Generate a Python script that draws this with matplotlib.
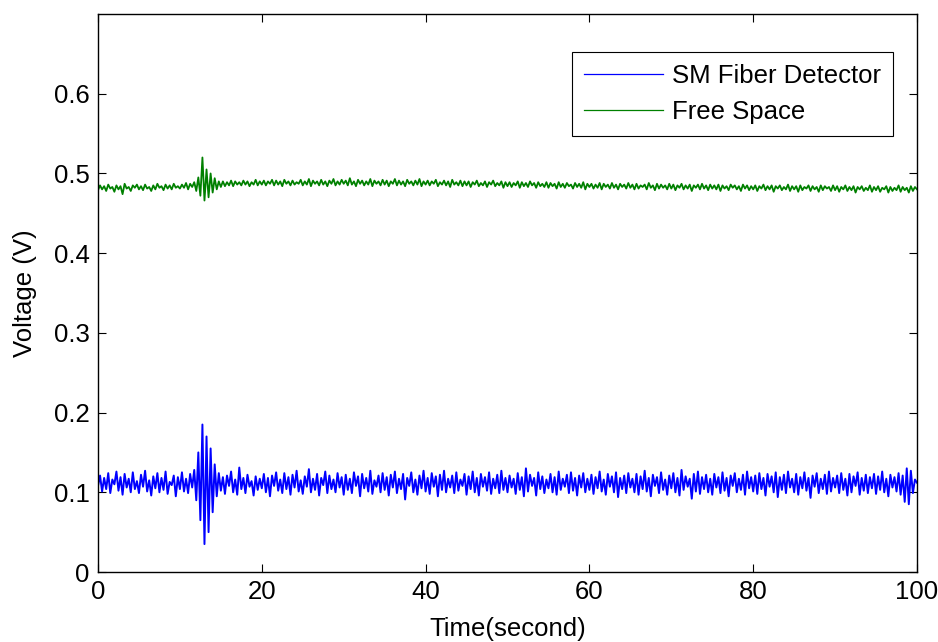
import numpy as np
import matplotlib.pyplot as plt

sm_fiber_mv = [
    108, 121, 101, 118, 104, 124, 99, 116, 110, 126, 102, 119, 97, 123, 106, 117, 100, 125, 104, 114,
    99, 122, 107, 127, 101, 115, 96, 120, 105, 124, 100, 118, 103, 126, 98, 113, 109, 121, 95, 119,
    104, 125, 101, 117, 99, 123, 106, 128, 90, 150, 65, 185, 35, 170, 50, 155, 75, 135, 95, 124,
    102, 119, 98, 121, 108, 126, 100, 116, 97, 131, 104, 118, 99, 122, 107, 114, 96, 120, 103, 117,
    105, 123, 100, 118, 95, 121, 108, 125, 102, 116, 99, 124, 104, 119, 97, 122, 106, 127, 101, 115,
    98, 120, 107, 129, 100, 117, 103, 123, 96, 118, 109, 126, 99, 121, 104, 116, 100, 124, 106, 119,
    97, 122, 103, 117, 99, 125, 108, 120, 95, 123, 105, 118, 101, 127, 98, 115, 107, 121, 100, 124,
    103, 119, 96, 122, 106, 126, 99, 117, 104, 123, 91, 118, 108, 125, 100, 116, 97, 121, 105, 127,
    101, 118, 98, 124, 107, 120, 95, 122, 103, 127, 100, 117, 106, 121, 99, 125, 102, 116, 108, 123,
    97, 120, 104, 126, 100, 118, 96, 123, 107, 119, 102, 125, 98, 117, 105, 122, 99, 127, 103, 118,
    100, 121, 106, 117, 98, 124, 103, 119, 95, 130, 101, 122, 108, 118, 96, 125, 104, 120, 99, 116,
    105, 123, 100, 119, 97, 126, 103, 117, 107, 122, 99, 125, 102, 118, 96, 121, 106, 124, 100, 117,
    103, 122, 98, 119, 105, 126, 101, 116, 97, 123, 107, 120, 100, 125, 94, 118, 104, 121, 99, 124,
    106, 117, 100, 123, 97, 120, 104, 127, 101, 118, 95, 122, 108, 119, 99, 125, 103, 116, 97, 121,
    105, 124, 100, 118, 96, 128, 103, 120, 107, 117, 92, 123, 101, 126, 98, 119, 104, 122, 100, 117,
    97, 123, 106, 119, 99, 125, 102, 118, 95, 121, 108, 124, 100, 117, 103, 122, 97, 126, 105, 119,
    101, 121, 98, 124, 104, 118, 96, 123, 107, 120, 100, 125, 94, 119, 103, 122, 99, 126, 106, 117,
    100, 123, 97, 119, 105, 125, 102, 118, 93, 121, 107, 124, 99, 117, 104, 122, 98, 126, 101, 118,
    106, 121, 99, 124, 103, 117, 96, 123, 100, 120, 108, 125, 97, 118, 102, 122, 99, 119, 105, 123,
    98, 120, 103, 126, 100, 117, 95, 122, 106, 119, 101, 124, 97, 121, 88, 130, 85, 127, 99, 116,
    112,
]

free_space_mv = [
    479, 485, 480, 484, 478, 486, 481, 483, 477, 485, 480, 484, 474, 487, 481, 483, 478, 485, 482, 486,
    480, 484, 479, 486, 481, 483, 478, 485, 480, 487, 482, 484, 479, 486, 481, 485, 480, 487, 482, 484,
    481, 486, 482, 488, 480, 487, 483, 489, 478, 495, 472, 520, 466, 505, 470, 500, 476, 494, 480, 490,
    483, 490, 484, 489, 485, 491, 484, 490, 486, 489, 485, 491, 486, 490, 484, 489, 486, 492, 485, 490,
    486, 491, 485, 490, 487, 492, 485, 491, 486, 490, 484, 492, 487, 490, 485, 491, 486, 489, 487, 492,
    485, 490, 486, 493, 484, 491, 487, 490, 485, 492, 486, 490, 484, 491, 487, 493, 485, 490, 486, 492,
    487, 491, 485, 494, 486, 490, 484, 492, 487, 491, 485, 490, 486, 493, 484, 491, 487, 490, 485, 492,
    486, 491, 484, 490, 487, 493, 485, 491, 486, 490, 484, 492, 487, 490, 485, 491, 486, 493, 484, 490,
    486, 491, 485, 490, 487, 492, 484, 489, 486, 491, 485, 490, 483, 492, 486, 489, 485, 491, 484, 490,
    485, 490, 483, 489, 486, 491, 484, 488, 485, 490, 483, 489, 486, 491, 484, 488, 485, 490, 482, 489,
    484, 489, 483, 488, 485, 490, 482, 489, 484, 488, 483, 490, 485, 488, 482, 489, 484, 487, 483, 489,
    482, 488, 484, 487, 481, 489, 483, 487, 482, 488, 484, 486, 481, 488, 483, 487, 482, 489, 480, 487,
    483, 487, 481, 486, 482, 488, 480, 487, 483, 486, 481, 488, 482, 486, 480, 487, 483, 486, 481, 488,
    482, 486, 480, 487, 481, 485, 483, 486, 480, 488, 482, 485, 479, 487, 481, 486, 482, 485, 480, 487,
    481, 486, 479, 485, 482, 487, 480, 485, 481, 486, 478, 485, 482, 486, 480, 487, 481, 485, 479, 486,
    481, 485, 480, 486, 478, 485, 481, 484, 479, 486, 482, 485, 480, 484, 478, 486, 481, 485, 479, 484,
    480, 485, 478, 484, 481, 486, 479, 484, 480, 485, 477, 484, 481, 485, 479, 483, 480, 486, 478, 484,
    480, 484, 477, 485, 479, 483, 481, 485, 478, 484, 480, 483, 477, 485, 479, 484, 481, 483, 478, 485,
    479, 484, 477, 483, 480, 485, 478, 483, 479, 484, 476, 483, 480, 484, 478, 482, 479, 485, 477, 483,
    479, 484, 477, 482, 480, 484, 476, 483, 478, 482, 479, 485, 477, 483, 479, 482, 476, 484, 478, 483,
    480,
]

legendas = ["SM Fiber Detector", "Free Space"]
x_ticks = [0, 20, 40, 60, 80, 100]
y_ticks = [0, 0.1, 0.2, 0.3, 0.4, 0.5, 0.6]

plt.rcParams["font.family"] = ["Liberation Sans", "DejaVu Sans"]
plt.rcParams["font.size"] = 18.5

tempo = np.linspace(0, 100, len(sm_fiber_mv))
sm_fiber = np.array(sm_fiber_mv) / 1000.0
free_space = np.array(free_space_mv) / 1000.0

fig = plt.figure(figsize=(9.38, 6.42), dpi=100)
ax = fig.add_axes([98 / 938, 70 / 642, 819 / 938, 558 / 642])

ax.plot(tempo, sm_fiber, color=(0, 0, 1), lw=1.4, label=legendas[0])
ax.plot(tempo, free_space, color=(0, 0.5, 0), lw=1.3, label=legendas[1])

ax.set_xlim(0, 100)
ax.set_ylim(0, 0.7)
ax.set_xticks(x_ticks)
ax.set_yticks(y_ticks)
ax.set_yticklabels(["0", "0.1", "0.2", "0.3", "0.4", "0.5", "0.6"])
ax.tick_params(direction="in", length=6, width=0.8, top=True, right=True, pad=6)
for lado in ax.spines.values():
    lado.set_linewidth(1.0)

ax.set_xlabel("Time(second)", labelpad=9)
ax.set_ylabel("Voltage (V)", labelpad=12)

leg = ax.legend(
    loc="upper right",
    bbox_to_anchor=((893 - 98) / 819, (572 - 52) / 558),
    borderaxespad=0,
    fancybox=False,
    framealpha=1,
    edgecolor="black",
    handlelength=3.1,
    handletextpad=0.35,
    labelspacing=0.5,
    borderpad=0.45,
)
leg.get_frame().set_linewidth(0.8)
for linha in leg.get_lines():
    linha.set_linewidth(0.9)

fig.savefig("out.png", dpi=100)
